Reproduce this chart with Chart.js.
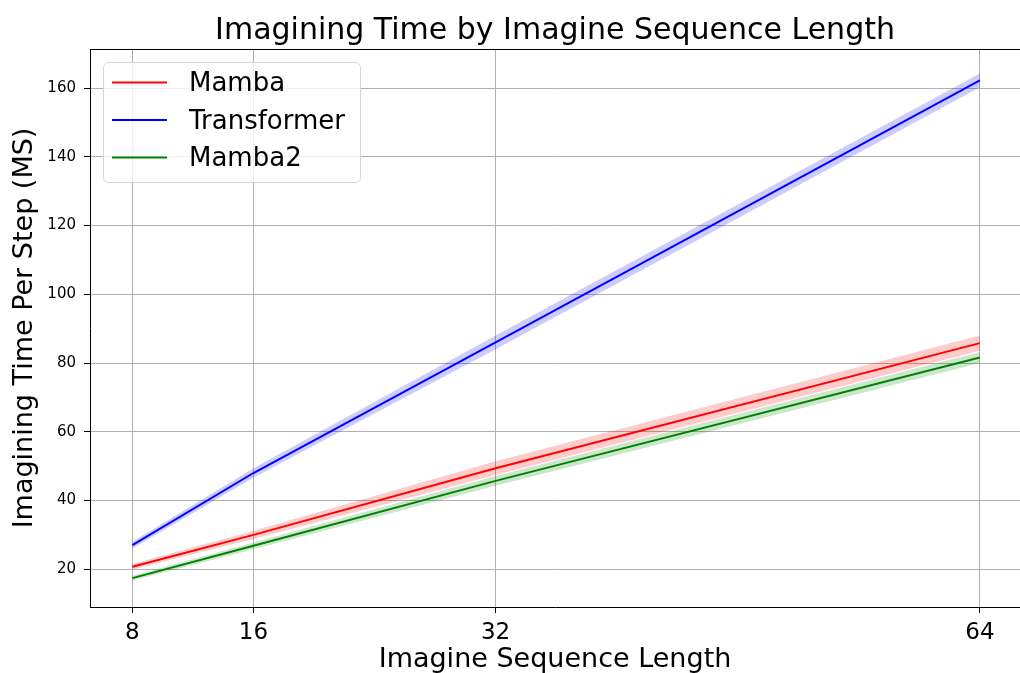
<!DOCTYPE html>
<html>
<head>
<meta charset="utf-8">
<script src="https://cdn.jsdelivr.net/npm/chart.js@4"></script>
<style>
  html, body { margin: 0; padding: 0; background: #fff; }
  #wrap { width: 1020px; height: 673px; }
</style>
</head>
<body>
<div id="wrap"><canvas id="chart" width="1020" height="673"></canvas></div>
<script>
// данные
const seqLengths = [8, 16, 32, 64];
const mambaMs = [20.7, 30.0, 49.4, 85.8];
const transformerMs = [27.0, 48.0, 86.0, 162.3];
const mamba2Ms = [17.4, 26.8, 45.7, 81.6];

// полуширина закрашенной полосы
const mambaSpread = [0.8, 1.2, 2.0, 2.2];
const transformerSpread = [1.0, 1.4, 2.0, 2.0];
const mamba2Spread = [0.7, 1.0, 1.4, 1.6];

const xTicks = [8, 16, 32, 64];
const yTicks = [20, 40, 60, 80, 100, 120, 140, 160];

const chartTitle = 'Imagining Time by Imagine Sequence Length';
const FONT = "'DejaVu Sans', sans-serif";

function points(values, spread, sign) {
    return seqLengths.map((x, i) => ({ x: x, y: values[i] + sign * (spread ? spread[i] : 0) }));
}

function bandSets(values, spread, rgba) {
    return [{
        data: points(values, spread, 1),
        borderWidth: 0,
        pointRadius: 0,
        fill: false
    }, {
        data: points(values, spread, -1),
        borderWidth: 0,
        pointRadius: 0,
        backgroundColor: rgba,
        fill: '-1'
    }];
}

function lineSet(label, values, color) {
    return {
        label: label,
        legendLabel: true,
        data: points(values, null, 0),
        borderColor: color,
        borderWidth: 2,
        pointRadius: 0,
        tension: 0,
        fill: false
    };
}

const datasets = [
    lineSet('Mamba', mambaMs, '#ff0000'),
    lineSet('Transformer', transformerMs, '#0000ff'),
    lineSet('Mamba2', mamba2Ms, '#008000'),
    ...bandSets(mambaMs, mambaSpread, 'rgba(255, 0, 0, 0.2)'),
    ...bandSets(transformerMs, transformerSpread, 'rgba(0, 0, 255, 0.2)'),
    ...bandSets(mamba2Ms, mamba2Spread, 'rgba(0, 128, 0, 0.2)')
];

// заголовок над областью графика, рамка сверху и легенда как в matplotlib
const framePlugin = {
    id: 'frame',
    afterDraw(chart) {
        const ctx = chart.ctx;
        const a = chart.chartArea;
        ctx.save();

        ctx.fillStyle = '#000';
        ctx.font = '30px ' + FONT;
        ctx.textAlign = 'center';
        ctx.textBaseline = 'alphabetic';
        ctx.fillText(chartTitle, (a.left + a.right) / 2, 39);

        ctx.strokeStyle = '#000';
        ctx.lineWidth = 1;
        ctx.beginPath();
        ctx.moveTo(a.left, a.top + 0.5);
        ctx.lineTo(a.right, a.top + 0.5);
        ctx.stroke();

        // легенда
        const bx = 103.5, by = 62.5, bw = 257, bh = 120, r = 5;
        ctx.fillStyle = 'rgba(255, 255, 255, 0.8)';
        ctx.strokeStyle = 'rgba(204, 204, 204, 0.8)';
        ctx.beginPath();
        ctx.roundRect(bx, by, bw, bh, r);
        ctx.fill();
        ctx.stroke();

        const items = chart.data.datasets.filter(d => d.legendLabel);
        ctx.font = '26px ' + FONT;
        ctx.textBaseline = 'middle';
        ctx.textAlign = 'left';
        items.forEach((d, i) => {
            const y = 82.5 + i * 37.5;
            ctx.strokeStyle = d.borderColor;
            ctx.lineWidth = 2;
            ctx.beginPath();
            ctx.moveTo(112, y);
            ctx.lineTo(167, y);
            ctx.stroke();
            ctx.fillStyle = '#000';
            ctx.fillText(d.label, 189, y + 2);
        });
        ctx.restore();
    }
};

new Chart(document.getElementById('chart'), {
    type: 'line',
    data: { datasets: datasets },
    options: {
        responsive: false,
        animation: false,
        events: [],
        layout: { padding: { left: 0, right: 0, top: 49, bottom: 0 } },
        plugins: {
            legend: { display: false },
            tooltip: { enabled: false },
            title: { display: false }
        },
        scales: {
            x: {
                type: 'linear',
                min: 5.2,
                max: 66.65,
                afterBuildTicks(scale) { scale.ticks = xTicks.map(v => ({ value: v })); },
                afterFit(scale) { scale.height = 66; },
                ticks: {
                    color: '#000',
                    font: { family: FONT, size: 23 },
                    padding: 6,
                    maxRotation: 0,
                    autoSkip: false
                },
                grid: { color: '#b0b0b0', lineWidth: 1, tickColor: '#000', tickLength: 6 },
                border: { display: true, color: '#000', width: 1 },
                title: {
                    display: true,
                    text: 'Imagine Sequence Length',
                    color: '#000',
                    font: { family: FONT, size: 27, lineHeight: 1 },
                    padding: { top: 0, bottom: 0 }
                }
            },
            y: {
                min: 9.0,
                max: 171.4,
                afterBuildTicks(scale) { scale.ticks = yTicks.map(v => ({ value: v })); },
                afterFit(scale) { scale.width = 90; },
                ticks: {
                    color: '#000',
                    font: { family: FONT, size: 15 },
                    padding: 8
                },
                grid: { color: '#b0b0b0', lineWidth: 1, tickColor: '#000', tickLength: 6 },
                border: { display: true, color: '#000', width: 1 },
                title: {
                    display: true,
                    text: 'Imagining Time Per Step (MS)',
                    color: '#000',
                    font: { family: FONT, size: 27, lineHeight: 1 },
                    padding: { top: 11, bottom: 0 }
                }
            }
        }
    },
    plugins: [framePlugin]
});
</script>
</body>
</html>
